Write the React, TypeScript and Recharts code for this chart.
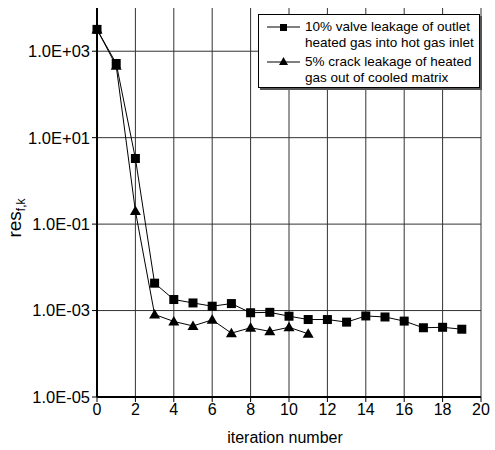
import React from 'react';
import {
  LineChart,
  Line,
  XAxis,
  YAxis,
  CartesianGrid,
  Legend,
  Label
} from 'recharts';

const iterations = [0, 1, 2, 3, 4, 5, 6, 7, 8, 9, 10, 11, 12, 13, 14, 15, 16, 17, 18, 19];
const valveLeak = [
  3200, 520, 3.3, 4.3e-3, 1.8e-3, 1.5e-3, 1.26e-3, 1.45e-3, 0.89e-3, 0.91e-3,
  0.74e-3, 0.62e-3, 0.62e-3, 0.54e-3, 0.75e-3, 0.71e-3, 0.57e-3, 0.4e-3, 0.41e-3, 0.37e-3
];
const crackLeak = [
  3200, 460, 0.2, 0.81e-3, 0.56e-3, 0.44e-3, 0.61e-3, 0.3e-3, 0.4e-3, 0.33e-3, 0.41e-3, 0.29e-3
];
const xTicks = [0, 2, 4, 6, 8, 10, 12, 14, 16, 18, 20];
const yTicks = [1e-5, 1e-3, 1e-1, 1e1, 1e3];
const seriesNames = [
  ['10% valve leakage of outlet', 'heated gas into hot gas inlet'],
  ['5% crack leakage of heated', 'gas out of cooled matrix']
];

const data = iterations.map((it, i) => ({
  it,
  valve: valveLeak[i],
  crack: i < crackLeak.length ? crackLeak[i] : null
}));

const FONT = 'Liberation Sans, Arial, sans-serif';

const fmtExp = (v: number) => {
  const e = Math.round(Math.log10(v));
  const sign = e < 0 ? '-' : '+';
  const abs = Math.abs(e).toString().padStart(2, '0');
  return `1.0E${sign}${abs}`;
};

const SquareDot = (props: any) => {
  const { cx, cy } = props;
  if (cx == null || cy == null) return null;
  return <rect x={cx - 4.5} y={cy - 4.5} width={9} height={9} fill="#000" />;
};

const TriangleDot = (props: any) => {
  const { cx, cy } = props;
  if (cx == null || cy == null) return null;
  return <polygon points={`${cx},${cy - 5.5} ${cx + 5.5},${cy + 4} ${cx - 5.5},${cy + 4}`} fill="#000" />;
};

const LegendBox = () => (
  <div
    style={{
      position: 'absolute',
      left: 258,
      top: 14,
      width: 222,
      height: 74,
      border: '1px solid #000',
      boxShadow: '2px 2px 0 #555',
      background: '#fff',
      fontFamily: FONT,
      fontSize: 13.5,
      lineHeight: '16px',
      padding: '4px 2px 2px 8px',
      boxSizing: 'border-box'
    }}
  >
    {seriesNames.map((lines, i) => (
      <div key={i} style={{ display: 'flex', alignItems: 'flex-start', marginBottom: i === 0 ? 3 : 0 }}>
        <svg width={33} height={16} style={{ flexShrink: 0 }}>
          <line x1={0} y1={8} x2={33} y2={8} stroke="#000" strokeWidth={1} />
          {i === 0 ? (
            <rect x={13} y={5} width={7} height={7} fill="#000" />
          ) : (
            <polygon points="16.5,3 21,11 12,11" fill="#000" />
          )}
        </svg>
        <div style={{ marginLeft: 5, whiteSpace: 'nowrap' }}>
          {lines.map((l, j) => (
            <div key={j}>{l}</div>
          ))}
        </div>
      </div>
    ))}
  </div>
);

export default function App() {
  return (
    <div style={{ position: 'absolute', left: 0, top: 0, width: 495, height: 450, background: '#fff' }}>
      <LineChart
        width={495}
        height={450}
        data={data}
        margin={{ top: 8, right: 14, bottom: 23, left: 0 }}
        style={{ fontFamily: FONT }}
      >
        <CartesianGrid stroke="#333" strokeWidth={1} horizontalValues={yTicks} verticalValues={xTicks} />
        <XAxis
          dataKey="it"
          type="number"
          domain={[0, 20]}
          ticks={xTicks}
          tick={{ fill: '#000', fontSize: 16 }}
          axisLine={{ stroke: '#000', strokeWidth: 2 }}
          tickLine={{ stroke: '#000' }}
          tickSize={5}
          height={30}
        >
          <Label
            content={() => (
              <text x={285} y={443} textAnchor="middle" fill="#000" fontSize={16}>
                iteration number
              </text>
            )}
          />
        </XAxis>
        <YAxis
          scale="log"
          domain={[1e-5, 1e4]}
          allowDataOverflow
          ticks={yTicks}
          tickFormatter={fmtExp}
          tick={{ fill: '#000', fontSize: 16.5 }}
          axisLine={{ stroke: '#000', strokeWidth: 2 }}
          tickLine={{ stroke: '#000' }}
          tickSize={5}
          width={97}
        >
          <Label
            content={() => (
              <text x={21} y={218} transform="rotate(-90 21 218)" textAnchor="middle" fill="#000" fontSize={19}>
                res<tspan fontSize={12} dy={4}>f,k</tspan>
              </text>
            )}
          />
        </YAxis>
        <Legend content={() => <LegendBox />} wrapperStyle={{ position: 'absolute', left: 0, top: 0, width: 0, height: 0 }} />
        <Line
          dataKey="valve"
          stroke="#000"
          strokeWidth={1}
          dot={<SquareDot />}
          activeDot={false}
          isAnimationActive={false}
        />
        <Line
          dataKey="crack"
          stroke="#000"
          strokeWidth={1}
          dot={<TriangleDot />}
          activeDot={false}
          isAnimationActive={false}
        />
      </LineChart>
    </div>
  );
}
